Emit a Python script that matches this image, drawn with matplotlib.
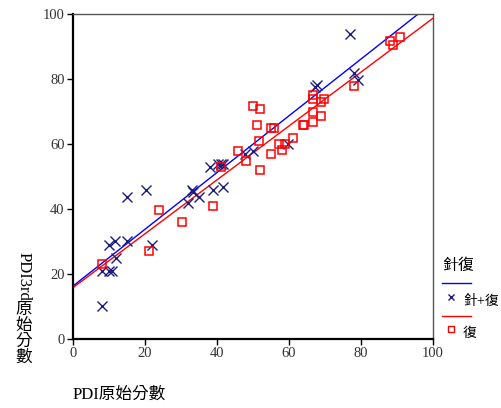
import matplotlib
matplotlib.use("Agg")
import matplotlib.pyplot as plt
from matplotlib.lines import Line2D
import numpy as np

# ---- data ----
combo_x = [8.0, 8.0, 10.1, 10.9, 11.9, 10.1, 11.7, 14.9, 21.9, 14.9, 20.2, 32.0, 33.1, 33.4,
           35.0, 38.1, 38.9, 40.4, 41.0, 41.7, 41.8, 47.9, 50.0, 59.8, 67.2, 67.9, 76.9, 78.0, 79.1]
combo_y = [10.2, 20.9, 20.9, 20.9, 24.8, 28.9, 30.2, 30.2, 28.9, 43.8, 45.8, 41.7, 45.8, 45.3,
           43.8, 52.8, 45.8, 54.0, 54.0, 53.7, 46.8, 57.0, 57.9, 60.0, 77.5, 78.1, 93.7, 81.8, 79.8]

rehab_x = [8.0, 21.1, 24.0, 30.2, 39.0, 41.0, 45.9, 48.0, 50.1, 51.9, 51.0, 51.8, 51.9, 54.9,
           55.8, 54.9, 57.1, 58.1, 58.9, 61.0, 64.0, 64.2, 66.8, 66.8, 66.8, 66.8, 68.9, 68.9,
           69.8, 78.0, 88.1, 89.0, 90.8]
rehab_y = [23.0, 27.1, 39.7, 36.1, 40.8, 52.8, 57.9, 54.9, 71.8, 70.8, 65.8, 60.9, 51.9, 64.8,
           64.8, 56.9, 60.1, 58.1, 60.1, 62.0, 65.8, 65.7, 75.1, 73.7, 69.8, 66.7, 68.7, 72.8,
           73.7, 77.8, 91.6, 90.6, 92.8]

# fit lines (intercept, slope) as shown in the chart
combo_fit = (16.3, 0.873)
rehab_fit = (15.8, 0.829)

x_ticks = [0, 20, 40, 60, 80, 100]
y_ticks = [0, 20, 40, 60, 80, 100]

legend_title = "針復"
combo_label = "針+復"
rehab_label = "復"
x_label = "PDI原始分數"
y_label_latin = "PDI3rd"
y_label_cjk = "原始分數"

# ---- style ----
W, H = 502, 408
fig = plt.figure(figsize=(W / 100, H / 100), dpi=100)
fams = ['Liberation Serif', 'Noto Sans CJK TC']
plt.rcParams['font.family'] = fams

ax = fig.add_axes([73 / W, 1 - 339 / H, 360 / W, 325 / H])
ax.set_xlim(0, 100)
ax.set_ylim(0, 100)

blue_line = '#0000ff'
blue_mark = '#1c1c80'
red = '#ff0000'

xs = np.array([0, 100])
for (b, m), c in [(combo_fit, blue_line), (rehab_fit, red)]:
    ax.plot(xs, b + m * xs, color=c, lw=1.0, zorder=2)

ax.plot(combo_x, combo_y, linestyle='none', marker='x', color=blue_mark,
        markersize=6.5, markeredgewidth=1.0, zorder=3)
ax.plot(rehab_x, rehab_y, linestyle='none', marker='s', markerfacecolor='none',
        markeredgecolor=red, markersize=6, markeredgewidth=1.1, zorder=3)

ax.set_xticks(x_ticks)
ax.set_yticks(y_ticks)
ax.tick_params(direction='out', length=4, width=1, pad=2, labelsize=10.5, colors='black')
for lab in ax.get_xticklabels() + ax.get_yticklabels():
    lab.set_color('#333333')

for s in ['left', 'bottom']:
    ax.spines[s].set_color('black')
    ax.spines[s].set_linewidth(1.6)
for s in ['top', 'right']:
    ax.spines[s].set_color('#555555')
    ax.spines[s].set_linewidth(1.0)

# axis labels
fig.text(73 / W, 1 - 395 / H, x_label, fontsize=12, ha='left', va='center', family=fams)
fig.text(24 / W, 1 - 252 / H, y_label_latin, fontsize=12, rotation=270, ha='center', va='top',
         family=fams)
fig.text(24 / W, 1 - 302 / H, "\n".join(y_label_cjk), fontsize=12, ha='center', va='top',
         linespacing=1.0, family=fams)

# legend (manual)
fig.text(442 / W, 1 - 266 / H, legend_title, fontsize=11.5, ha='left', va='center', family=fams)
fig.add_artist(Line2D([442 / W, 471 / W], [1 - 283 / H, 1 - 283 / H], color=blue_line, lw=1.0,
                      transform=fig.transFigure))
fig.add_artist(Line2D([451 / W], [1 - 297 / H], marker='x', color=blue_mark, markersize=5,
                      markeredgewidth=1.0, linestyle='none', transform=fig.transFigure))
fig.text(463 / W, 1 - 301 / H, combo_label, fontsize=10, ha='left', va='center', family=fams)
fig.add_artist(Line2D([442 / W, 471 / W], [1 - 316 / H, 1 - 316 / H], color=red, lw=1.0,
                      transform=fig.transFigure))
fig.add_artist(Line2D([451 / W], [1 - 329 / H], marker='s', markerfacecolor='none',
                      markeredgecolor=red, markersize=5, markeredgewidth=1.0, linestyle='none',
                      transform=fig.transFigure))
fig.text(463 / W, 1 - 333 / H, rehab_label, fontsize=10, ha='left', va='center', family=fams)

fig.savefig('out.png', dpi=100)
